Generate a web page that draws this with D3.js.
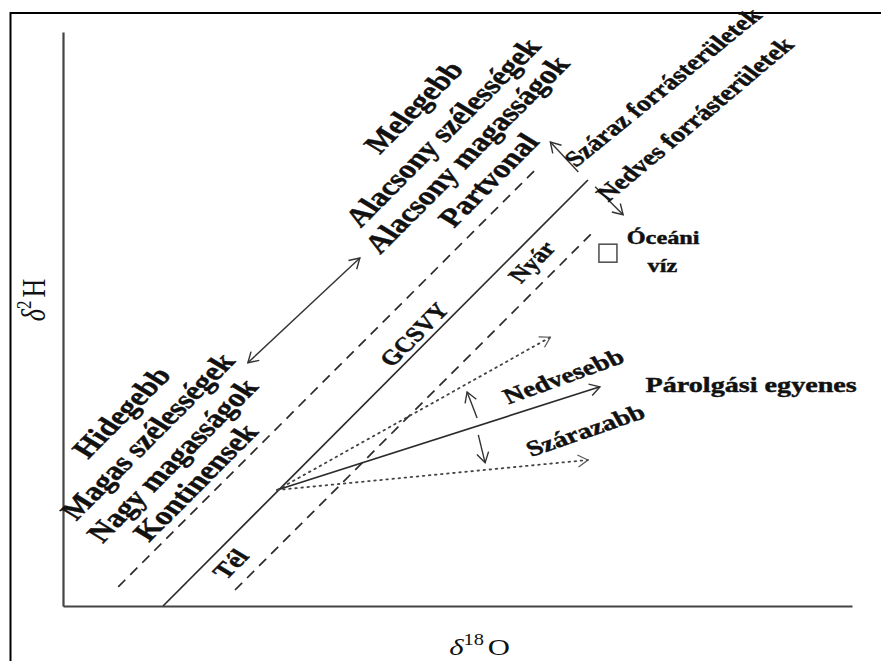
<!DOCTYPE html>
<html>
<head>
<meta charset="utf-8">
<script src="https://cdn.jsdelivr.net/npm/d3@7"></script>
<style>
  html, body { margin: 0; padding: 0; background: #fff; }
  svg { display: block; }
  text { font-family: "Liberation Serif", "Times New Roman", serif; fill: #111; }
</style>
</head>
<body>
<div id="chart"></div>
<script>
// ---------- data (schematic units) ----------
const xDomain = [0, 98.6];
const yDomain = [0, 71.75];

// meteoric water lines: upper dashed, GCSVY (solid), lower dashed
const lineNames  = ["felső szaggatott", "GCSVY", "alsó szaggatott"];
const lineStartX = [6.9, 12.5, 21.5];
const lineStartY = [2.4, 0.0, 2.0];
const lineEndX   = [59.4, 65.6, 66.1];
const lineEndY   = [54.9, 53.25, 46.6];
const lineKinds  = ["dashed", "solid", "dashed"];

// evaporation fan from one origin on the GCSVY
const evapOrigin = [26.75, 14.5];
const evapNames  = ["nedvesebb határ", "párolgási egyenes", "szárazabb határ"];
const evapEndX   = [60.9, 67.1, 65.6];
const evapEndY   = [33.6, 27.4, 18.25];
const evapKinds  = ["dotted", "solid", "dotted"];

// short arrows
const arrowNames = ["hőmérséklet", "száraz forrás", "nedves forrás", "nedvesebb", "szárazabb"];
const arrowFromX = [23.1, 64.4, 66.5, 51.75, 51.9];
const arrowFromY = [30.4, 54.25, 52.4, 23.5, 21.4];
const arrowToX   = [37.1, 60.9, 70.0, 50.5, 52.75];
const arrowToY   = [43.5, 58.0, 48.9, 26.75, 17.9];
const arrowBoth  = [true, false, false, false, false];

// ocean water marker
const oceanX = 68.1, oceanY = 44.1;

// labels
const labelTexts = ["Melegebb", "Alacsony szélességek", "Alacsony magasságok", "Partvonal",
  "Hidegebb", "Magas szélességek", "Nagy magasságok", "Kontinensek",
  "Tél", "GCSVY", "Nyár", "Száraz forrásterületek", "Nedves forrásterületek",
  "Nedvesebb", "Szárazabb", "Párolgási egyenes", "Óceáni", "víz"];
const labelX = [43.75, 47.4, 50.4, 53.1, 7.25, 10.5, 13.6, 16.5, 20.9, 43.9, 58.6, 74.9, 78.9, 62.5, 65.25, 86.0, 75.0, 74.9];
const labelY = [62.4, 59.25, 56.5, 53.25, 24.25, 21.25, 18.25, 15.5, 5.25, 33.9, 43.0, 64.9, 60.9, 28.75, 22.0, 27.75, 46.0, 42.5];
const labelAngle = [45, 45, 45, 45, 45, 45, 45, 45, 45, 45, 45, 39, 40, 20, 19, 0, 0, 0];
const labelSize  = [26, 26, 26, 26, 26, 26, 26, 26, 22, 21, 21, 22, 22, 22, 22, 22, 19, 19];

// ---------- layout ----------
const W = 881, H = 661;
const sx = 1.28; // horizontal stretch of the original picture
const svg = d3.select("#chart").append("svg").attr("width", W).attr("height", H);

const x = d3.scaleLinear().domain(xDomain).range([63, 852]);
const y = d3.scaleLinear().domain(yDomain).range([606, 32]);

// frame
svg.append("path").attr("d", `M10.5,${H} V13 H${W}`)
  .attr("fill", "none").attr("stroke", "#000").attr("stroke-width", 2);

// markers
const defs = svg.append("defs");
function marker(id, color, w) {
  defs.append("marker").attr("id", id)
    .attr("viewBox", "-12 -7 14 14").attr("refX", 0).attr("refY", 0)
    .attr("markerUnits", "userSpaceOnUse").attr("markerWidth", 14).attr("markerHeight", 14)
    .attr("orient", "auto-start-reverse")
    .append("path").attr("d", "M-10,-6 L0,0 L-10,6")
    .attr("fill", "none").attr("stroke", color).attr("stroke-width", w);
}
marker("arr", "#333", 1.4);
marker("arrDot", "#555", 1.2);

// axes
svg.append("g").attr("transform", `translate(${x(0)},0)`)
  .call(d3.axisLeft(y).tickValues([]).tickSizeOuter(0));
svg.append("g").attr("transform", `translate(0,${y(0)})`)
  .call(d3.axisBottom(x).tickValues([]).tickSizeOuter(0));
svg.selectAll(".domain").attr("stroke", "#444").attr("stroke-width", 2.2);

// meteoric lines
const dashMap = { dashed: "10,7", solid: null, dotted: "1.6,4.5" };
lineNames.forEach((n, i) => {
  svg.append("line")
    .attr("x1", x(lineStartX[i])).attr("y1", y(lineStartY[i]))
    .attr("x2", x(lineEndX[i])).attr("y2", y(lineEndY[i]))
    .attr("stroke", "#2a2a2a").attr("stroke-width", 1.7)
    .attr("stroke-dasharray", dashMap[lineKinds[i]]);
});

// evaporation fan
evapNames.forEach((n, i) => {
  const dotted = evapKinds[i] === "dotted";
  svg.append("line")
    .attr("x1", x(evapOrigin[0])).attr("y1", y(evapOrigin[1]))
    .attr("x2", x(evapEndX[i])).attr("y2", y(evapEndY[i]))
    .attr("stroke", dotted ? "#444" : "#2a2a2a")
    .attr("stroke-width", dotted ? 1.8 : 1.7)
    .attr("stroke-linecap", dotted ? "round" : "butt")
    .attr("stroke-dasharray", dashMap[evapKinds[i]])
    .attr("marker-end", dotted ? "url(#arrDot)" : "url(#arr)");
});

// short arrows
arrowNames.forEach((n, i) => {
  const l = svg.append("line")
    .attr("x1", x(arrowFromX[i])).attr("y1", y(arrowFromY[i]))
    .attr("x2", x(arrowToX[i])).attr("y2", y(arrowToY[i]))
    .attr("stroke", "#333").attr("stroke-width", 1.4)
    .attr("marker-end", "url(#arr)");
  if (arrowBoth[i]) l.attr("marker-start", "url(#arr)");
});

// ocean water square
svg.append("rect")
  .attr("x", x(oceanX) - 9).attr("y", y(oceanY) - 9)
  .attr("width", 18).attr("height", 18)
  .attr("fill", "none").attr("stroke", "#555").attr("stroke-width", 1.6);

// labels
labelTexts.forEach((t, i) => {
  const a = Math.atan(sx * Math.tan(labelAngle[i] * Math.PI / 180)) * 180 / Math.PI;
  svg.append("text")
    .attr("transform", `translate(${x(labelX[i])},${y(labelY[i])}) scale(${sx},1) rotate(${-a})`)
    .attr("text-anchor", "middle")
    .attr("dominant-baseline", "central")
    .attr("font-weight", "bold")
    .attr("font-size", labelSize[i])
    .attr("stroke", "#111").attr("stroke-width", 0.45)
    .text(t);
});

// axis titles
const xt = svg.append("text")
  .attr("transform", `translate(${(x.range()[0] + x.range()[1]) / 2 + 22},655) scale(${sx},1)`)
  .attr("text-anchor", "middle").attr("font-size", 24);
xt.append("tspan").attr("font-style", "italic").text("δ");
xt.append("tspan").attr("font-size", 16).attr("dy", -10).text("18");
xt.append("tspan").attr("dy", 10).attr("dx", 3).text("O");

const yt = svg.append("text")
  .attr("transform", `translate(45,300) scale(${sx},1) rotate(-90)`)
  .attr("text-anchor", "middle").attr("font-size", 26);
yt.append("tspan").attr("font-style", "italic").text("δ");
yt.append("tspan").attr("font-size", 17).attr("dy", -11).text("2");
yt.append("tspan").attr("dy", 11).attr("dx", 3).text("H");
</script>
</body>
</html>
